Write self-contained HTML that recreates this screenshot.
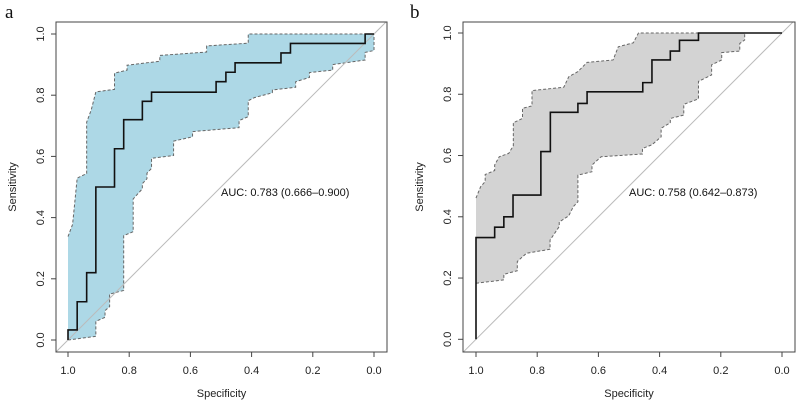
<!DOCTYPE html>
<html><head><meta charset="utf-8"><style>
body{margin:0;background:#fff;}
svg{display:block;font-family:"Liberation Sans",sans-serif;}
</style></head><body>
<svg id="chart" width="800" height="405" viewBox="0 0 800 405"></svg>
<script>
// Panel a data
const aLineSpec=[1,1,0.97,0.97,0.939,0.939,0.909,0.909,0.848,0.848,0.818,0.818,0.757,0.757,0.727,0.727,0.516,0.516,0.484,0.484,0.454,0.454,0.304,0.304,0.273,0.273,0.029,0.029,0];
const aLineSens=[0,0.033,0.033,0.125,0.125,0.22,0.22,0.5,0.5,0.625,0.625,0.72,0.72,0.78,0.78,0.81,0.81,0.844,0.844,0.875,0.875,0.906,0.906,0.938,0.938,0.969,0.969,1,1];
const aUpSpec=[1,0.985,0.97,0.939,0.939,0.924,0.909,0.848,0.848,0.807,0.807,0.7,0.7,0.547,0.547,0.411,0.411,0];
const aUpSens=[0.338,0.378,0.529,0.544,0.712,0.752,0.811,0.819,0.872,0.882,0.898,0.911,0.93,0.941,0.961,0.97,1,1];
const aLoSpec=[1,0.909,0.909,0.879,0.879,0.864,0.864,0.818,0.818,0.787,0.787,0.757,0.757,0.742,0.742,0.727,0.727,0.655,0.655,0.593,0.593,0.441,0.441,0.411,0.411,0.391,0.332,0.332,0.256,0.256,0.211,0.211,0.135,0.135,0.029,0.029,0,0];
const aLoSens=[0,0.012,0.061,0.074,0.096,0.109,0.15,0.162,0.341,0.354,0.461,0.494,0.511,0.527,0.545,0.561,0.594,0.603,0.65,0.664,0.681,0.694,0.717,0.73,0.782,0.792,0.808,0.817,0.826,0.844,0.858,0.874,0.882,0.9,0.915,0.94,0.946,1];
// Panel b data
const bLineSpec=[1,1,0.939,0.939,0.909,0.909,0.879,0.879,0.788,0.788,0.757,0.757,0.667,0.667,0.637,0.637,0.455,0.455,0.425,0.425,0.365,0.365,0.335,0.335,0.273,0.273,0];
const bLineSens=[0,0.332,0.332,0.366,0.366,0.4,0.4,0.471,0.471,0.613,0.613,0.741,0.741,0.77,0.77,0.808,0.808,0.838,0.838,0.912,0.912,0.941,0.941,0.976,0.976,1,1];
const bUpSpec=[1,0.985,0.97,0.97,0.939,0.939,0.924,0.893,0.878,0.878,0.848,0.848,0.817,0.817,0.713,0.697,0.667,0.637,0.552,0.535,0.486,0.469,0.122];
const bUpSens=[0.461,0.498,0.515,0.538,0.551,0.569,0.596,0.607,0.632,0.707,0.721,0.754,0.762,0.812,0.823,0.857,0.874,0.904,0.912,0.955,0.968,1,1];
const bLoSpec=[1,0.909,0.909,0.865,0.865,0.835,0.758,0.758,0.728,0.728,0.697,0.682,0.667,0.667,0.621,0.621,0.591,0.456,0.456,0.425,0.395,0.395,0.365,0.365,0.321,0.321,0.273,0.273,0.23,0.23,0.197,0.197,0.138,0.138,0.122,0.122];
const bLoSens=[0.183,0.194,0.212,0.224,0.254,0.281,0.294,0.324,0.368,0.383,0.403,0.433,0.449,0.536,0.547,0.569,0.596,0.605,0.623,0.635,0.661,0.689,0.707,0.721,0.732,0.767,0.785,0.842,0.863,0.896,0.912,0.936,0.941,0.966,0.977,1];
const tickVals=[1.0,0.8,0.6,0.4,0.2,0.0];
const tickLabels=["1.0","0.8","0.6","0.4","0.2","0.0"];

const NS="http://www.w3.org/2000/svg";
const svg=document.getElementById('chart');
function mk(tag,attrs,parent){const e=document.createElementNS(NS,tag);for(const k in attrs)e.setAttribute(k,attrs[k]);(parent||svg).appendChild(e);return e;}

function panel(p){
  const g=mk('g',{});
  
  
  const sx=v=>p.x0+(p.x1-p.x0)*v; // spec 1 -> x1, spec 0 -> x0
  const sy=v=>p.y0-(p.y0-p.y1)*v;
  const cid='clip-'+p.name;
  const cp=mk('clipPath',{id:cid},g);mk('rect',{x:p.bl,y:p.bt,width:p.br-p.bl,height:p.bb-p.bt},cp);
  let pts=[];
  for(let i=0;i<p.upS.length;i++)pts.push(sx(p.upS[i])+','+sy(p.upV[i]));
  for(let i=p.loS.length-1;i>=0;i--)pts.push(sx(p.loS[i])+','+sy(p.loV[i]));
  const band=mk('polygon',{points:pts.join(' '),fill:p.fill,stroke:'none'},g);
  
  
  const up=mk('polyline',{points:p.upS.map((s,i)=>sx(s)+','+sy(p.upV[i])).join(' '),fill:'none',stroke:'#666','stroke-width':1,'stroke-dasharray':'3,2'},g);
  
  
  const lo=mk('polyline',{points:p.loS.map((s,i)=>sx(s)+','+sy(p.loV[i])).join(' '),fill:'none',stroke:'#666','stroke-width':1,'stroke-dasharray':'3,2'},g);
  
  
  const d=mk('line',{x1:sx(1.04),y1:sy(-0.04),x2:sx(-0.04),y2:sy(1.04),stroke:'#bbb','stroke-width':1,'clip-path':'url(#'+cid+')'},g);
  
  
  const ln=mk('polyline',{points:p.lS.map((s,i)=>sx(s)+','+sy(p.lV[i])).join(' '),fill:'none',stroke:'#111','stroke-width':1.6},g);
  
  
  const box=mk('rect',{x:p.bl,y:p.bt,width:p.br-p.bl,height:p.bb-p.bt,fill:'none',stroke:'#444','stroke-width':1},g);
  
  
  tickVals.forEach((v,i)=>{
    const x=sx(v);
    mk('line',{x1:x,y1:p.bb,x2:x,y2:p.bb+5,stroke:'#444'},g);
    const t=mk('text',{x:x,y:p.bb+22,'font-size':11,'text-anchor':'middle',fill:'#222'},g);t.textContent=tickLabels[i];
    
    
    const y=sy(v);
    mk('line',{x1:p.bl,y1:y,x2:p.bl-5,y2:y,stroke:'#444'},g);
    const u=mk('text',{x:p.bl-12,y:y,'font-size':11,'text-anchor':'middle',fill:'#222',transform:'rotate(-90 '+(p.bl-12)+' '+y+')'},g);u.textContent=tickLabels[i];
    
    
  });
  const xt=mk('text',{x:(p.bl+p.br)/2,y:397,'font-size':11,'text-anchor':'middle',fill:'#222'},g);xt.textContent='Specificity';
  
  
  const yx=p.bl-40,yy=(p.bt+p.bb)/2;
  const yt=mk('text',{x:yx,y:yy,'font-size':11,'text-anchor':'middle',fill:'#222',transform:'rotate(-90 '+yx+' '+yy+')'},g);yt.textContent='Sensitivity';
  
  
  const at=mk('text',{x:p.aucX,y:196,'font-size':11,fill:'#111'},g);at.textContent=p.auc;
  
  
  const pl=mk('text',{x:p.labX,y:18,'font-size':19,'font-family':'"Liberation Serif",serif',fill:'#111'},g);pl.textContent=p.name;
  
  
}
panel({name:'a',bl:56,bt:22,br:387,bb:352,x1:68,x0:374,y0:340,y1:34,fill:'#add8e6',
  lS:aLineSpec,lV:aLineSens,upS:aUpSpec,upV:aUpSens,loS:aLoSpec,loV:aLoSens,auc:'AUC: 0.783 (0.666\u20130.900)',aucX:221,labX:5});
panel({name:'b',bl:463,bt:22,br:795,bb:352,x1:476,x0:782,y0:339.3,y1:33,fill:'#d3d3d3',
  lS:bLineSpec,lV:bLineSens,upS:bUpSpec,upV:bUpSens,loS:bLoSpec,loV:bLoSens,auc:'AUC: 0.758 (0.642\u20130.873)',aucX:629,labX:410});
</script>
</body></html>
